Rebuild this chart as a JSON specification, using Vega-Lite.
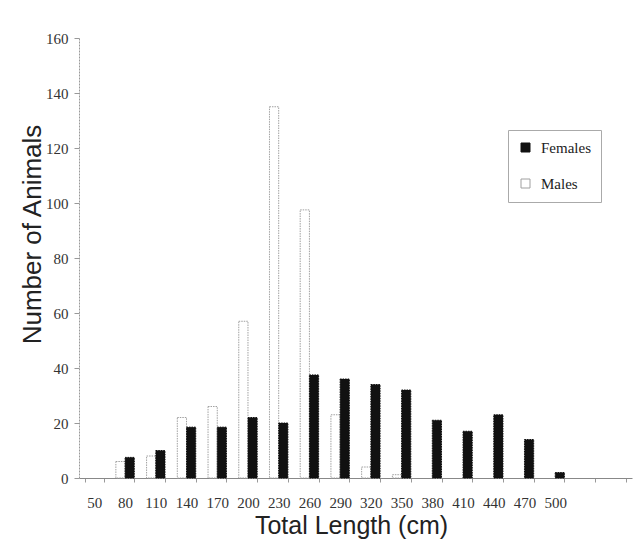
{
  "$schema": "https://vega.github.io/schema/vega-lite/v6.json",
  "autosize": {"type": "none"},
  "padding": {"left": 79, "top": 38, "right": 7, "bottom": 74},
  "width": 553,
  "height": 440,
  "background": "white",
  "data": {
    "values": [
      {"length": "80", "sex": "Males", "count": 6},
      {"length": "80", "sex": "Females", "count": 7.5},
      {"length": "110", "sex": "Males", "count": 8},
      {"length": "110", "sex": "Females", "count": 10},
      {"length": "140", "sex": "Males", "count": 22},
      {"length": "140", "sex": "Females", "count": 18.5},
      {"length": "170", "sex": "Males", "count": 26},
      {"length": "170", "sex": "Females", "count": 18.5},
      {"length": "200", "sex": "Males", "count": 57},
      {"length": "200", "sex": "Females", "count": 22},
      {"length": "230", "sex": "Males", "count": 135},
      {"length": "230", "sex": "Females", "count": 20},
      {"length": "260", "sex": "Males", "count": 97.5},
      {"length": "260", "sex": "Females", "count": 37.5},
      {"length": "290", "sex": "Males", "count": 23},
      {"length": "290", "sex": "Females", "count": 36},
      {"length": "320", "sex": "Males", "count": 4},
      {"length": "320", "sex": "Females", "count": 34},
      {"length": "350", "sex": "Males", "count": 1.2},
      {"length": "350", "sex": "Females", "count": 32},
      {"length": "380", "sex": "Females", "count": 21},
      {"length": "410", "sex": "Females", "count": 17},
      {"length": "440", "sex": "Females", "count": 23},
      {"length": "470", "sex": "Females", "count": 14},
      {"length": "500", "sex": "Females", "count": 2}
    ]
  },
  "mark": {"type": "bar", "strokeWidth": 1, "strokeDash": [1.5, 1]},
  "encoding": {
    "x": {
      "field": "length",
      "type": "nominal",
      "scale": {
        "domain": ["50","80","110","140","170","200","230","260","290","320","350","380","410","440","470","500","530","560"],
        "paddingInner": 0.4,
        "paddingOuter": 0.2
      },
      "axis": {
        "tickBand": "extent",
        "tickSize": 4,
        "tickColor": "#999999",
        "domainColor": "#888888",
        "labelAngle": 0,
        "labelFont": "Liberation Serif",
        "labelFontSize": 15,
        "labelColor": "#333333",
        "labelBaseline": "top",
        "labelPadding": 13,
        "labelExpr": "datum.value == '530' || datum.value == '560' ? '' : datum.value",
        "title": "Total Length (cm)",
        "titleFont": "Liberation Sans",
        "titleFontSize": 25,
        "titleFontWeight": "normal",
        "titleColor": "#222222",
        "titleX": 272,
        "titleY": 55,
        "titleAlign": "center",
        "titleBaseline": "alphabetic"
      }
    },
    "xOffset": {
      "field": "sex",
      "type": "nominal",
      "scale": {"domain": ["Males", "Females"], "paddingInner": 0, "paddingOuter": 0}
    },
    "y": {
      "field": "count",
      "type": "quantitative",
      "scale": {"domain": [0, 160]},
      "axis": {
        "values": [0, 20, 40, 60, 80, 100, 120, 140, 160],
        "grid": false,
        "tickSize": 5,
        "tickColor": "#999999",
        "domainColor": "#999999",
        "domainDash": [2, 1],
        "labelFont": "Liberation Serif",
        "labelFontSize": 15,
        "labelColor": "#333333",
        "labelPadding": 6,
        "title": "Number of Animals",
        "titleFont": "Liberation Sans",
        "titleFontSize": 26,
        "titleFontWeight": "normal",
        "titleColor": "#222222",
        "titleAngle": -90,
        "titleX": -39,
        "titleY": 196,
        "titleAlign": "center",
        "titleBaseline": "alphabetic"
      }
    },
    "fill": {
      "field": "sex",
      "type": "nominal",
      "scale": {"domain": ["Females", "Males"], "range": ["#111111", "#ffffff"]},
      "legend": {
        "title": null,
        "orient": "none",
        "legendX": 429,
        "legendY": 92,
        "symbolType": "square",
        "symbolSize": 81,
        "symbolStrokeWidth": 1,
        "labelFont": "Liberation Serif",
        "labelFontSize": 15,
        "labelColor": "#222222",
        "labelOffset": 8,
        "rowPadding": 20,
        "padding": 10,
        "strokeColor": "#aaaaaa"
      }
    },
    "stroke": {
      "field": "sex",
      "type": "nominal",
      "scale": {"domain": ["Females", "Males"], "range": ["#111111", "#a0a0a0"]},
      "legend": {
        "title": null,
        "orient": "none",
        "legendX": 429,
        "legendY": 92,
        "symbolType": "square",
        "symbolSize": 81,
        "symbolStrokeWidth": 1,
        "labelFont": "Liberation Serif",
        "labelFontSize": 15,
        "labelColor": "#222222",
        "labelOffset": 8,
        "rowPadding": 20,
        "padding": 10,
        "strokeColor": "#aaaaaa"
      }
    }
  },
  "config": {"view": {"stroke": null}}
}
